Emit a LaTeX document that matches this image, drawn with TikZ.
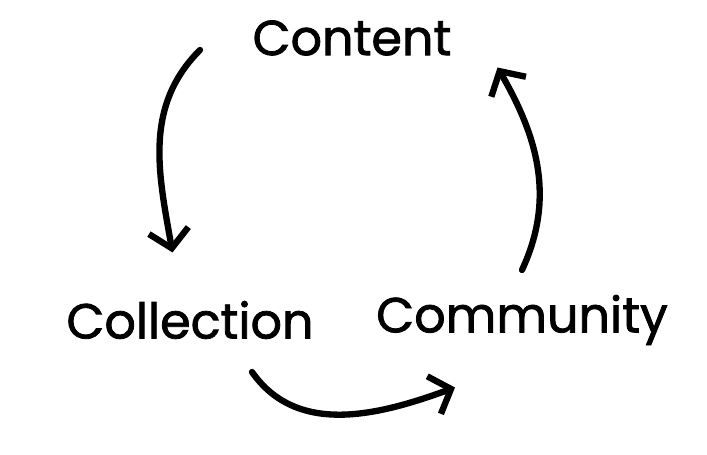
\documentclass[tikz,border=0pt]{standalone}
\usepackage{fontspec}
\setmainfont{Poppins}[FakeBold=1.6]
\usetikzlibrary{arrows.meta}

\begin{document}
\begin{tikzpicture}[
    label/.style={font=\fontsize{28}{34}\selectfont, inner sep=0pt},
    cyclearrow/.style={-{Straight Barb[length=3.6mm, width=8mm, line width=3.6pt]}, line width=3.6pt, line cap=round}
]
\useasboundingbox (0,0) rectangle (14.14,9.1);

% Stages
\node[label] (content) at (7.04,8.34) {Content};
\node[label] (collection) at (3.8,2.7) {Collection};
\node[label] (community) at (10.44,2.7) {Community};

% Arrow ends
\coordinate (c1) at (4.0,8.1);
\coordinate (c2) at (3.45,4.05);
\coordinate (c3) at (5.04,1.66);
\coordinate (c4) at (9.1,1.35);
\coordinate (c5) at (10.44,3.7);
\coordinate (c6) at (9.95,7.75);

% Cycle
\draw[cyclearrow] (c1) to[out=225, in=100] (c2);
\draw[cyclearrow] (c3) to[out=-55, in=200] (c4);
\draw[cyclearrow] (c5) to[out=65, in=-60] (c6);

\end{tikzpicture}
\end{document}
